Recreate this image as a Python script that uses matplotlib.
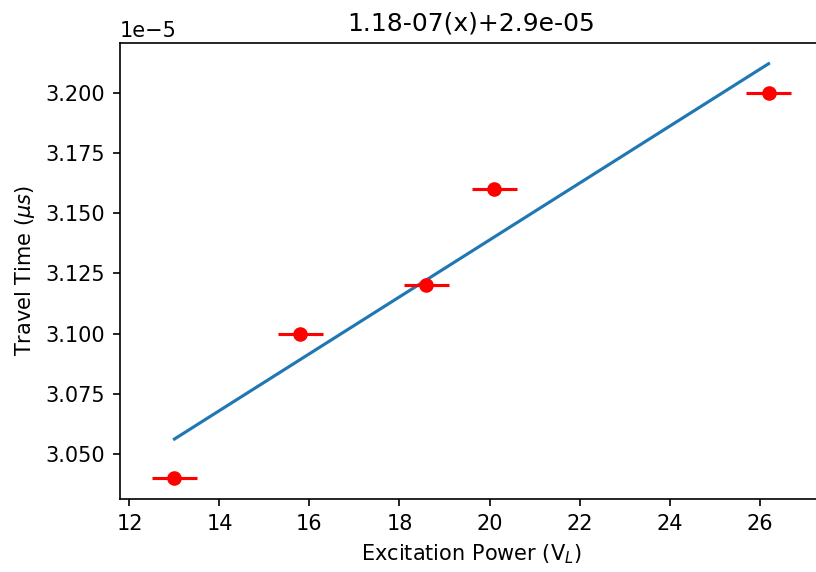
import numpy as np
import matplotlib
matplotlib.use("Agg")
import matplotlib.pyplot as plt

power = [13.0, 15.8, 18.6, 20.1, 26.2]
travel_time = [3.04e-5, 3.10e-5, 3.12e-5, 3.16e-5, 3.20e-5]
power_err = [0.5, 0.5, 0.5, 0.5, 0.5]

x = np.array(power)
y = np.array(travel_time)
slope, intercept = np.polyfit(x, y, 1)

DPI = 150
fig = plt.figure(figsize=(816/DPI, 572/DPI), dpi=DPI)
ax = fig.add_axes([120/816, 73/572, (823-120)/816, (499-43)/572])
xs = np.array([x.min(), x.max()])
ax.plot(xs, slope*xs + intercept, color='C0')
ax.errorbar(x, y, xerr=power_err, fmt='ro')
ax.spines['right'].set_visible(False)
ax.set_title("1.18-07(x)+2.9e-05")
ax.set_xlabel("Excitation Power (V$_L$)")
ax.set_ylabel("Travel Time ($\\mu s$)")
fig.savefig("out.png", dpi=DPI)
